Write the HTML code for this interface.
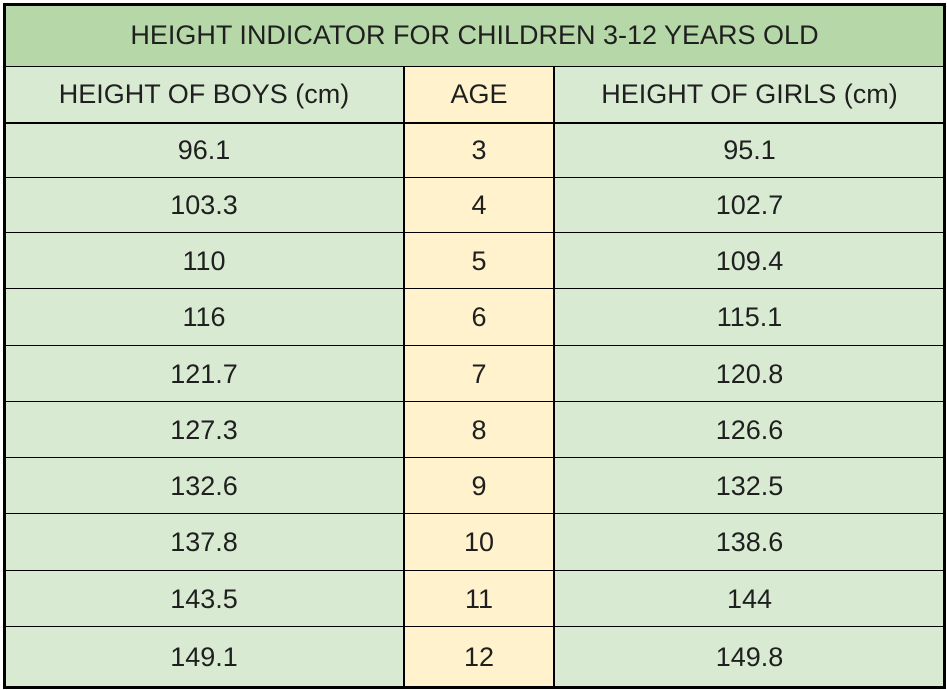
<!DOCTYPE html>
<html><head><meta charset="utf-8"><style>
body{margin:0;width:947px;height:690px;background:#fff;position:relative;overflow:hidden;font-family:"Liberation Sans",Arial,sans-serif;color:#1f1f1f}
.c{position:absolute;display:flex;align-items:center;justify-content:center;font-size:27px;box-sizing:border-box}
.ln{position:absolute;background:#000}
</style></head><body>
<div id="tbl"></div>
<script>
const ages=[3,4,5,6,7,8,9,10,11,12];
const boys=["96.1","103.3","110","116","121.7","127.3","132.6","137.8","143.5","149.1"];
const girls=["95.1","102.7","109.4","115.1","120.8","126.6","132.5","138.6","144","149.8"];
const rowsY=[123,178,233,289,346,402,458,514,571,627,687];
const t=document.getElementById('tbl');
function cell(x,y,w,h,txt,bg,name){const d=document.createElement('div');d.className='c';
d.style.left=x+'px';d.style.top=y+'px';d.style.width=w+'px';d.style.height=h+'px';d.style.background=bg;d.textContent=txt;


t.appendChild(d);return d;}
function line(x,y,w,h,name){const d=document.createElement('div');d.className='ln';
d.style.left=x+'px';d.style.top=y+'px';d.style.width=w+'px';d.style.height=h+'px';


t.appendChild(d);}
const G='#d9ead3',Y='#fff2cc';
cell(4,4,941,62,'HEIGHT INDICATOR FOR CHILDREN 3-12 YEARS OLD','#b6d7a8','table-title');
cell(4,66,400,57,'HEIGHT OF BOYS (cm)',G,'boys-header');
cell(404,66,150,57,'AGE',Y,'age-header');
cell(554,66,391,57,'HEIGHT OF GIRLS (cm)',G,'girls-header');
for(let i=0;i<ages.length;i++){
 const y=rowsY[i],h=rowsY[i+1]-y;
 cell(4,y,400,h,boys[i],G,'boys-height-cell');
 cell(404,y,150,h,String(ages[i]),Y,'age-cell');
 cell(554,y,391,h,girls[i],G,'girls-height-cell');
}
line(3,3,943,3,'border-top');line(3,686,943,3,'border-bottom');
line(3,3,3,686,'border-left');line(943,3,3,686,'border-right');
line(4,66,941,1,'title-divider');line(4,122,941,2,'header-divider');
for(let i=1;i<rowsY.length-1;i++)line(4,rowsY[i]-1,941,1,'row-divider');
line(403,66,2,621,'col-divider-1');line(553,66,2,621,'col-divider-2');
</script>
</body></html>
